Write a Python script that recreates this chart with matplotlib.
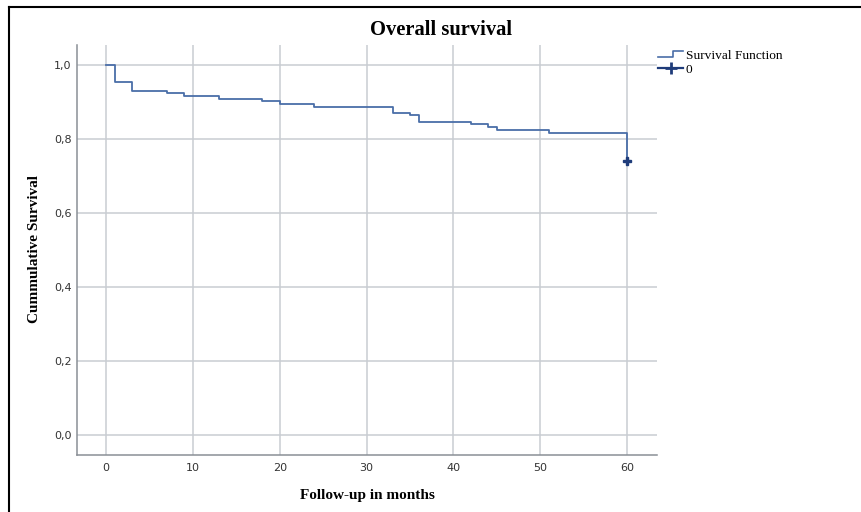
import matplotlib
matplotlib.use("Agg")
import matplotlib.pyplot as plt
from matplotlib.lines import Line2D
from matplotlib.legend_handler import HandlerBase

# Data: Kaplan-Meier step points (months, cumulative survival)
times = [0, 1, 3, 7, 9, 13, 18, 20, 24, 33, 35, 36, 42, 44, 45, 51, 60]
survival = [1.0, 0.954, 0.931, 0.925, 0.916, 0.908, 0.902, 0.894, 0.886,
            0.869, 0.864, 0.847, 0.841, 0.833, 0.823, 0.817, 0.741]
censor_times = [60]
censor_surv = [0.741]
xticks = [0, 10, 20, 30, 40, 50, 60]
yticks = [0.0, 0.2, 0.4, 0.6, 0.8, 1.0]
yticklabels = ["0,0", "0,2", "0,4", "0,6", "0,8", "1,0"]

line_color = "#4a6ea8"
mark_color = "#1f3c7a"
grid_color = "#c9cdd2"
spine_color = "#8a8f96"

fig = plt.figure(figsize=(8.61, 5.12), dpi=100)
ax = fig.add_axes([77.3 / 861, 57 / 512, (656.7 - 77.3) / 861, 410 / 512])

ax.step(times, survival, where="post", color=line_color, lw=1.3, zorder=3)
ax.plot(censor_times, censor_surv, linestyle="none", marker="P",
        markersize=5.5, color=mark_color, zorder=4)

ax.set_xlim(-3.3, 63.4)
ax.set_ylim(-0.054, 1.054)
ax.set_xticks(xticks)
ax.set_yticks(yticks)
ax.set_yticklabels(yticklabels)
ax.grid(True, color=grid_color, lw=1.1, zorder=0)
ax.set_axisbelow(True)
for s in ["top", "right"]:
    ax.spines[s].set_visible(False)
for s in ["left", "bottom"]:
    ax.spines[s].set_color(spine_color)
    ax.spines[s].set_linewidth(1.1)
ax.tick_params(axis="x", length=0, labelsize=8, labelcolor="#333333", pad=6)
ax.tick_params(axis="y", length=0, labelsize=8, labelcolor="#333333", pad=4)
for lab in ax.get_xticklabels() + ax.get_yticklabels():
    lab.set_family("DejaVu Sans")

serif = "Liberation Serif"
fig.text(441.5 / 861, 1 - 30 / 512, "Overall survival", ha="center", va="center",
         fontsize=14.8, fontweight="bold", family=serif)
fig.text(367 / 861, 1 - 495.7 / 512, "Follow-up in months", ha="center", va="center",
         fontsize=11, fontweight="bold", family=serif)
fig.text(35 / 861, 1 - 249 / 512, "Cummulative Survival", ha="center", va="center",
         rotation=90, fontsize=11, fontweight="bold", family=serif)


class StepHandler(HandlerBase):
    def create_artists(self, legend, orig_handle, xdescent, ydescent, width,
                       height, fontsize, trans):
        x0, x1 = -xdescent, -xdescent + width
        xm = x0 + width * 0.6
        ylo = -ydescent + height * 0.25
        yhi = -ydescent + height * 0.85
        ln = Line2D([x0, xm, xm, x1], [ylo, ylo, yhi, yhi],
                    color=orig_handle.get_color(), lw=1.2, transform=trans)
        return [ln]


step_handle = Line2D([], [], color=line_color)
cens_handle = Line2D([], [], color=mark_color, lw=1.6, marker="+",
                     markersize=9, markeredgewidth=2)
leg = fig.legend([step_handle, cens_handle], ["Survival Function", "0"],
                 handler_map={step_handle: StepHandler()},
                 loc="upper left", bbox_to_anchor=(658 / 861, 1 - 50 / 512),
                 frameon=False, handlelength=1.9, handletextpad=0.2,
                 labelspacing=0.1, borderaxespad=0, borderpad=0,
                 prop={"family": serif, "size": 9.6})

# outer frame (left and top edges visible)
fig.add_artist(Line2D([9 / 861, 9 / 861], [0, 1 - 7 / 512], color="black",
                      lw=1.5, transform=fig.transFigure))
fig.add_artist(Line2D([9 / 861, 1], [1 - 7 / 512, 1 - 7 / 512], color="black",
                      lw=1.5, transform=fig.transFigure))

fig.savefig("out.png", dpi=100)
